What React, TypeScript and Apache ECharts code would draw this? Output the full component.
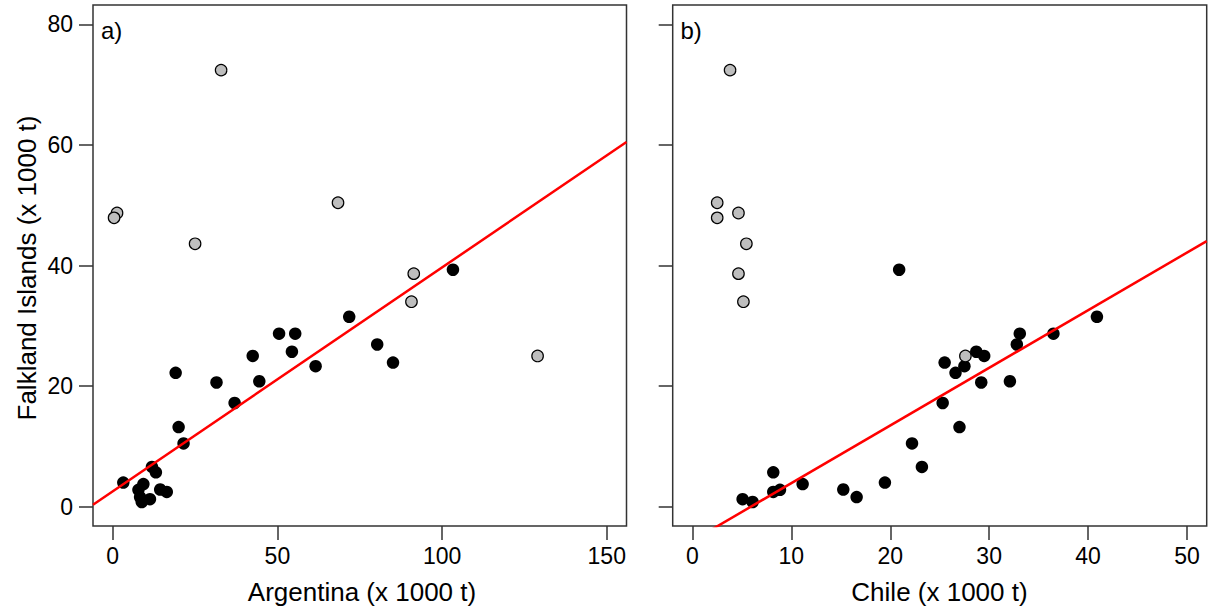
import React, { useEffect, useRef } from "react";
import * as echarts from "echarts";

// Falkland Islands catch (x 1000 t) — grey (excluded) years
const falklandsOutliers = [72.4, 50.4, 48.7, 47.9, 43.6, 38.65, 34.0, 25.0];
const argentinaOutliers = [32.9, 68.4, 1.3, 0.4, 25.0, 91.4, 90.7, 129.0];
const chileOutliers = [3.8, 2.5, 4.65, 2.5, 5.45, 4.65, 5.15, 27.6];

// Black (included) years
const falklands = [
  39.3, 31.5, 28.7, 28.7, 26.9, 25.7, 25.0, 23.9, 23.3, 22.2, 20.8, 20.6, 17.2,
  13.2, 10.5, 6.6, 5.7, 4.0, 3.75, 2.85, 2.8, 2.45, 1.6, 1.25, 0.78,
];
const argentina = [
  103.3, 71.8, 50.5, 55.4, 80.3, 54.4, 42.5, 85.1, 61.6, 19.1, 44.5, 31.5, 37.0,
  20.0, 21.5, 11.9, 13.1, 3.2, 9.3, 14.4, 7.8, 16.4, 8.3, 11.3, 8.8,
];
const chile = [
  20.9, 40.9, 33.1, 36.5, 32.8, 28.7, 29.5, 25.5, 27.5, 26.6, 32.1, 29.2, 25.3,
  27.0, 22.2, 23.2, 8.17, 19.46, 11.14, 15.25, 8.85, 8.17, 16.6, 5.07, 6.08,
];

const xTicksA = [0, 50, 100, 150];
const xTicksB = [0, 10, 20, 30, 40, 50];
const yTicks = [0, 20, 40, 60, 80];

const fitA = { intercept: 2.55, slope: 0.3713 };
const fitB = { intercept: -5.64, slope: 0.9555 };

const xRangeA = [-6, 156];
const xRangeB = [-2, 52];
const yRange = [-3.2, 83.2];

const axisColor = "#333333";
const font = "'Liberation Sans', Arial, sans-serif";

function pairs(xs: number[], ys: number[]) {
  return xs.map((x, i) => [x, ys[i]]);
}

function fitLine(fit: { intercept: number; slope: number }, range: number[]) {
  return range.map((x) => [x, fit.intercept + fit.slope * x]);
}

function xAxis(gridIndex: number, range: number[], ticks: number[]) {
  return {
    type: "value",
    gridIndex,
    min: range[0],
    max: range[1],
    splitLine: { show: false },
    axisLine: { show: false, onZero: false },
    axisTick: {
      show: true,
      inside: false,
      length: 14,
      lineStyle: { color: axisColor, width: 1.5 },
      customValues: ticks,
    },
    axisLabel: {
      show: true,
      margin: 18,
      fontSize: 23,
      color: "#000",
      fontFamily: font,
      customValues: ticks,
    },
  };
}

function yAxis(gridIndex: number, showLabels: boolean) {
  return {
    type: "value",
    gridIndex,
    min: yRange[0],
    max: yRange[1],
    splitLine: { show: false },
    axisLine: { show: false, onZero: false },
    axisTick: {
      show: true,
      inside: false,
      length: 14,
      lineStyle: { color: axisColor, width: 1.5 },
      customValues: yTicks,
    },
    axisLabel: {
      show: showLabels,
      margin: 20,
      fontSize: 23,
      color: "#000",
      fontFamily: font,
      customValues: yTicks,
    },
  };
}

function App() {
  const ref = useRef<HTMLDivElement>(null);

  useEffect(() => {
    if (!ref.current) return;
    const chart = echarts.init(ref.current, null, { renderer: "svg" });
    const blackStyle = { color: "#000000", opacity: 1 };
    const greyStyle = {
      color: "#bebebe",
      borderColor: "#000000",
      borderWidth: 1.2,
      opacity: 1,
    };
    const lineStyle = { color: "#ff0000", width: 2.5 };

    chart.setOption({
      animation: false,
      backgroundColor: "#ffffff",
      grid: [
        {
          left: 93,
          top: 5,
          width: 533.5,
          height: 521,
          show: true,
          borderColor: axisColor,
          borderWidth: 1.5,
          backgroundColor: "transparent",
        },
        {
          left: 672.7,
          top: 5,
          width: 534,
          height: 521,
          show: true,
          borderColor: axisColor,
          borderWidth: 1.5,
          backgroundColor: "transparent",
        },
      ],
      xAxis: [xAxis(0, xRangeA, xTicksA), xAxis(1, xRangeB, xTicksB)],
      yAxis: [yAxis(0, true), yAxis(1, false)],
      series: [
        {
          type: "scatter",
          xAxisIndex: 0,
          yAxisIndex: 0,
          data: pairs(argentina, falklands),
          symbolSize: 12.5,
          itemStyle: blackStyle,
        },
        {
          type: "scatter",
          xAxisIndex: 0,
          yAxisIndex: 0,
          data: pairs(argentinaOutliers, falklandsOutliers),
          symbolSize: 11.5,
          itemStyle: greyStyle,
        },
        {
          type: "line",
          xAxisIndex: 0,
          yAxisIndex: 0,
          data: fitLine(fitA, xRangeA),
          symbol: "none",
          lineStyle,
          clip: true,
          z: 5,
        },
        {
          type: "scatter",
          xAxisIndex: 1,
          yAxisIndex: 1,
          data: pairs(chile, falklands),
          symbolSize: 12.5,
          itemStyle: blackStyle,
        },
        {
          type: "scatter",
          xAxisIndex: 1,
          yAxisIndex: 1,
          data: pairs(chileOutliers, falklandsOutliers),
          symbolSize: 11.5,
          itemStyle: greyStyle,
        },
        {
          type: "line",
          xAxisIndex: 1,
          yAxisIndex: 1,
          data: fitLine(fitB, xRangeB),
          symbol: "none",
          lineStyle,
          clip: true,
          z: 5,
        },
      ],
      graphic: [
        {
          type: "text",
          left: 101,
          top: 18,
          style: { text: "a)", fontSize: 24, fontFamily: font, fill: "#000" },
        },
        {
          type: "text",
          left: 680.5,
          top: 18,
          style: { text: "b)", fontSize: 24, fontFamily: font, fill: "#000" },
        },
        {
          type: "text",
          x: 362,
          y: 592,
          style: {
            text: "Argentina (x 1000 t)",
            fontSize: 26,
            fontFamily: font,
            fill: "#000",
            align: "center",
            verticalAlign: "middle",
          },
        },
        {
          type: "text",
          x: 939.5,
          y: 592,
          style: {
            text: "Chile (x 1000 t)",
            fontSize: 26,
            fontFamily: font,
            fill: "#000",
            align: "center",
            verticalAlign: "middle",
          },
        },
        {
          type: "text",
          x: 27,
          y: 268,
          rotation: Math.PI / 2,
          style: {
            text: "Falkland Islands (x 1000 t)",
            fontSize: 26,
            fontFamily: font,
            fill: "#000",
            align: "center",
            verticalAlign: "middle",
          },
        },
      ],
    });

    return () => chart.dispose();
  }, []);

  return (
    <div
      ref={ref}
      style={{ position: "absolute", left: 0, top: 0, width: 1208, height: 614 }}
    />
  );
}

export default App;
